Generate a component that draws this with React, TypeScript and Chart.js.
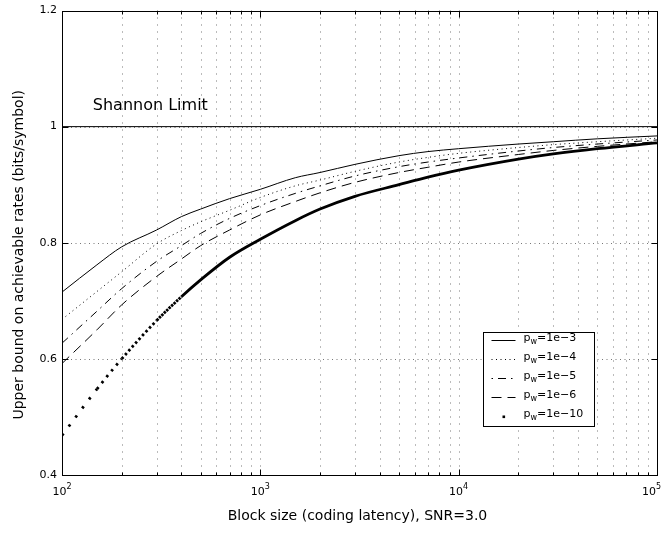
import React, { useEffect, useRef } from 'react';
import { Chart, registerables } from 'chart.js';

Chart.register(...registerables);

// ---- data ----
const blockSizes = [100, 150, 200, 300, 400, 500, 700, 1000, 1500, 2000, 3000, 5000, 7000, 10000, 20000, 30000, 50000, 100000];
const rateP1e3 = [0.715, 0.762, 0.793, 0.822, 0.845, 0.858, 0.876, 0.892, 0.912, 0.921, 0.935, 0.950, 0.957, 0.962, 0.970, 0.974, 0.979, 0.984];
const rateP1e4 = [0.668, 0.716, 0.750, 0.798, 0.821, 0.836, 0.856, 0.878, 0.898, 0.908, 0.923, 0.939, 0.947, 0.954, 0.964, 0.969, 0.974, 0.980];
const rateP1e5 = [0.627, 0.682, 0.721, 0.768, 0.795, 0.816, 0.842, 0.864, 0.885, 0.898, 0.915, 0.931, 0.939, 0.946, 0.958, 0.964, 0.970, 0.977];
const rateP1e6 = [0.592, 0.650, 0.693, 0.742, 0.772, 0.795, 0.822, 0.848, 0.871, 0.886, 0.904, 0.921, 0.930, 0.939, 0.952, 0.959, 0.966, 0.974];
const rateP1e10 = [0.468, 0.548, 0.600, 0.666, 0.707, 0.736, 0.775, 0.806, 0.838, 0.858, 0.880, 0.900, 0.913, 0.925, 0.944, 0.953, 0.962, 0.972];
const shannonX = [100, 100000];
const shannonY = [1, 1];
const seriesLabels = ['1e\u22123', '1e\u22124', '1e\u22125', '1e\u22126', '1e\u221210'];
const yTickValues = [0.4, 0.6, 0.8, 1, 1.2];
const xMajorTicks = [100, 1000, 10000, 100000];
const xTickExponents = ['2', '3', '4', '5'];
const xTitle = 'Block size (coding latency), SNR=3.0';
const yTitle = 'Upper bound on achievable rates (bits/symbol)';
const annotationText = 'Shannon Limit';
const annotationAt = { x: 143, y: 1.028 };
const sampleStep = 10; // block-size step of the dotted (marker) curve

// ---- styles ----
const FONT = '"DejaVu Sans", "Liberation Sans", sans-serif';
const seriesStyles = [
  { dash: [] as number[], width: 1, offset: 0, dots: false },
  { dash: [1, 3.5], width: 1, offset: 0, dots: false },
  { dash: [8, 5, 1.5, 5], width: 1, offset: 13, dots: false },
  { dash: [10, 6], width: 1, offset: 0, dots: false },
  { dash: [] as number[], width: 2.8, offset: 0, dots: true },
];

const xMinorTicks: number[] = [];
for (let d = 100; d < 100000; d *= 10) {
  for (let m = 2; m <= 9; m++) xMinorTicks.push(m * d);
}

const crisp = (v: number) => Math.round(v) + 0.5;

const decorPlugin = {
  id: 'decor',
  beforeDatasetsDraw(chart: any) {
    const { ctx, chartArea: a, scales } = chart;
    const xs = scales.x;
    const ys = scales.y;
    ctx.save();
    ctx.strokeStyle = '#777';
    ctx.lineWidth = 1;
    ctx.setLineDash([1, 6]);
    const vLines = [...xMinorTicks, 1000, 10000];
    for (const v of vLines) {
      const x = crisp(xs.getPixelForValue(v));
      ctx.beginPath();
      ctx.moveTo(x, a.top);
      ctx.lineTo(x, a.bottom);
      ctx.stroke();
    }
    ctx.setLineDash([1, 3.5]);
    for (const v of yTickValues) {
      const y = crisp(ys.getPixelForValue(v));
      ctx.beginPath();
      ctx.moveTo(a.left, y);
      ctx.lineTo(a.right, y);
      ctx.stroke();
    }
    ctx.restore();
  },
  afterDatasetsDraw(chart: any) {
    const { ctx, chartArea: a, scales } = chart;
    const xs = scales.x;
    const ys = scales.y;
    ctx.save();
    ctx.setLineDash([]);
    ctx.strokeStyle = '#000';
    ctx.fillStyle = '#000';
    ctx.lineWidth = 1;
    // frame
    const L = crisp(a.left), R = crisp(a.right), T = crisp(a.top), B = crisp(a.bottom);
    ctx.strokeRect(L, T, R - L, B - T);
    // x tick marks (inside, top and bottom)
    const tick = (v: number, len: number) => {
      const x = crisp(xs.getPixelForValue(v));
      ctx.beginPath();
      ctx.moveTo(x, B); ctx.lineTo(x, B - len);
      ctx.moveTo(x, T); ctx.lineTo(x, T + len);
      ctx.stroke();
    };
    xMinorTicks.forEach((v) => tick(v, 3));
    xMajorTicks.forEach((v) => tick(v, 6));
    for (const v of yTickValues) {
      const y = crisp(ys.getPixelForValue(v));
      ctx.beginPath();
      ctx.moveTo(L, y); ctx.lineTo(L + 6, y);
      ctx.moveTo(R, y); ctx.lineTo(R - 6, y);
      ctx.stroke();
    }
    // x tick labels 10^k
    ctx.textBaseline = 'alphabetic';
    ctx.textAlign = 'left';
    xMajorTicks.forEach((v, i) => {
      const x = xs.getPixelForValue(v);
      ctx.font = `11px ${FONT}`;
      const w10 = ctx.measureText('10').width;
      ctx.font = `8px ${FONT}`;
      const we = ctx.measureText(xTickExponents[i]).width;
      const start = Math.min(x - (w10 + we) / 2, chart.width - 6 - (w10 + we));
      ctx.font = `11px ${FONT}`;
      ctx.fillText('10', start, a.bottom + 20);
      ctx.font = `8px ${FONT}`;
      ctx.fillText(xTickExponents[i], start + w10, a.bottom + 14);
    });
    // axis titles
    ctx.font = `14px ${FONT}`;
    ctx.textAlign = 'center';
    ctx.fillText(xTitle, (a.left + a.right) / 2 - 2, a.bottom + 45);
    ctx.save();
    ctx.translate(23, (a.top + a.bottom) / 2 + 12);
    ctx.rotate(-Math.PI / 2);
    ctx.fillText(yTitle, 0, 0);
    ctx.restore();
    // Shannon limit annotation
    ctx.font = `16px ${FONT}`;
    ctx.textAlign = 'left';
    ctx.fillText(annotationText, xs.getPixelForValue(annotationAt.x), ys.getPixelForValue(annotationAt.y));
    // legend
    const lx = crisp(a.right - 174), ly = crisp(a.top + 321), lw = 111, lh = 94;
    ctx.fillStyle = '#fff';
    ctx.fillRect(lx, ly, lw, lh);
    ctx.strokeRect(lx, ly, lw, lh);
    ctx.fillStyle = '#000';
    seriesLabels.forEach((lab, i) => {
      const st = seriesStyles[i];
      const base = ly + 8.5 + i * 19;
      if (st.dots) {
        ctx.fillRect(lx + 19, base - 1.5, 2.6, 2.6);
      } else {
        ctx.setLineDash(st.dash);
        ctx.lineDashOffset = st.offset;
        ctx.lineWidth = st.width;
        ctx.beginPath();
        ctx.moveTo(lx + 8, Math.round(base) - 0.5);
        ctx.lineTo(lx + 32, Math.round(base) - 0.5);
        ctx.stroke();
        ctx.setLineDash([]);
        ctx.lineDashOffset = 0;
      }
      let tx = lx + 40;
      ctx.font = `11px ${FONT}`;
      ctx.fillText('p', tx, base);
      tx += ctx.measureText('p').width;
      ctx.font = `8px ${FONT}`;
      ctx.fillText('w', tx, base + 3);
      tx += ctx.measureText('w').width;
      ctx.font = `11px ${FONT}`;
      ctx.fillText('=' + lab, tx, base);
    });
    ctx.restore();
  },
};

const toPoints = (ys: number[]) => ys.map((y, i) => ({ x: blockSizes[i], y }));

export default function App() {
  const ref = useRef<HTMLCanvasElement | null>(null);
  useEffect(() => {
    if (!ref.current) return;
    const series = [rateP1e3, rateP1e4, rateP1e5, rateP1e6, rateP1e10];
    const datasets: any[] = series.map((vals, i) => {
      const st = seriesStyles[i];
      const ds: any = {
        label: 'p_w=' + seriesLabels[i],
        data: toPoints(vals),
        borderColor: '#000',
        borderWidth: st.width,
        borderDash: st.dash,
        borderCapStyle: 'butt',
        pointRadius: 0,
        cubicInterpolationMode: 'monotone',
        fill: false,
      };
      if (st.dots) {
        ds.segment = {
          borderDash: (c: any) => {
            const xs = c.chart.scales.x;
            const n0 = blockSizes[c.p0DataIndex];
            const n1 = blockSizes[c.p1DataIndex];
            const nm = Math.sqrt(n0 * n1);
            const stepPx = xs.getPixelForValue(nm + sampleStep) - xs.getPixelForValue(nm);
            const dx = c.p1.x - c.p0.x;
            const dy = c.p1.y - c.p0.y;
            const along = dx > 0 ? (stepPx * Math.hypot(dx, dy)) / dx : 0;
            if (along <= 2.5 + 0.8) return [];
            return [2.5, along - 2.5];
          },
        };
      }
      return ds;
    });
    datasets.push({
      label: 'Shannon limit',
      data: shannonX.map((x, i) => ({ x, y: shannonY[i] })),
      borderColor: '#000',
      borderWidth: 1,
      pointRadius: 0,
      fill: false,
    });
    const chart = new Chart(ref.current, {
      type: 'line',
      data: { datasets },
      options: {
        animation: false,
        responsive: false,
        layout: { padding: { top: 6, right: 10, left: 0, bottom: 0 } },
        plugins: { legend: { display: false }, tooltip: { enabled: false } },
        scales: {
          x: {
            type: 'logarithmic',
            min: 100,
            max: 100000,
            grid: { display: false, drawTicks: false },
            border: { display: false },
            ticks: { display: false },
            afterFit: (s: any) => { s.height = 62; },
          },
          y: {
            type: 'linear',
            min: 0.4,
            max: 1.2,
            grid: { display: false, drawTicks: false },
            border: { display: false },
            ticks: {
              stepSize: 0.2,
              padding: 5,
              color: '#000',
              font: { family: FONT, size: 11, lineHeight: 1 },
              callback: (v: any) => String(Number(Number(v).toFixed(1))),
            },
            afterFit: (s: any) => { s.width = 62; },
          },
        },
      } as any,
      plugins: [decorPlugin],
    });
    return () => chart.destroy();
  }, []);
  return (
    <div style={{ position: 'fixed', left: 0, top: 0, width: 667, height: 537, background: '#fff' }}>
      <canvas ref={ref} width={667} height={537} style={{ display: 'block', width: 667, height: 537 }} />
    </div>
  );
}
